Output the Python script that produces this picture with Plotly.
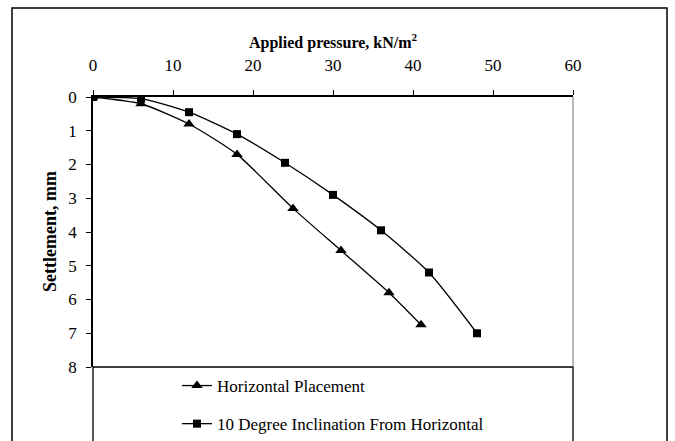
import plotly.graph_objects as go

pressure_h = [0, 6, 12, 18, 25, 31, 37, 41]
settle_h = [0, 0.2, 0.8, 1.7, 3.3, 4.55, 5.8, 6.75]
pressure_i = [0, 6, 12, 18, 24, 30, 36, 42, 48]
settle_i = [0, 0.05, 0.45, 1.1, 1.95, 2.9, 3.95, 5.2, 7.0]
names = ["Horizontal Placement", "10 Degree Inclination From Horizontal"]

W, H = 675, 441
L, R, T, B = 93, 573, 97, 367
font = "Liberation Serif, Times New Roman, serif"

fig = go.Figure()
fig.add_trace(go.Scatter(x=pressure_h, y=settle_h, name=names[0], mode="lines+markers",
                         legendgroup="a",
                         line=dict(color="black", width=1.3, shape="spline", smoothing=0.6),
                         marker=dict(symbol="triangle-up", size=10, color="black")))
fig.add_trace(go.Scatter(x=pressure_i, y=settle_i, name=names[1], mode="lines+markers",
                         legendgroup="b",
                         line=dict(color="black", width=1.3, shape="spline", smoothing=0.6),
                         marker=dict(symbol="square", size=8, color="black")))

fig.update_layout(
    width=W, height=H,
    margin=dict(l=L, r=W - R, t=T, b=H - B, autoexpand=False),
    paper_bgcolor="white", plot_bgcolor="white",
    font=dict(family=font, size=16, color="black"),
    showlegend=True,
    legend=dict(x=(177 - L) / (R - L), y=-(368 - B) / (B - T), xanchor="left", yanchor="top",
                bgcolor="rgba(0,0,0,0)", font=dict(size=17, family=font),
                tracegroupgap=13, traceorder="grouped", itemwidth=30),
    xaxis=dict(side="top", range=[0, 60], dtick=10, tick0=0, ticks="outside", ticklen=5,
               tickcolor="black", showline=True, linecolor="black", linewidth=1.5,
               showgrid=False, zeroline=False, tickfont=dict(size=17, family=font),
               ticklabelstandoff=12),
    yaxis=dict(range=[8, 0], dtick=1, tick0=0, ticks="outside", ticklen=5,
               tickcolor="black", showline=True, linecolor="black", linewidth=1.5,
               showgrid=False, zeroline=False, tickfont=dict(size=17, family=font),
               ticklabelstandoff=6),
    annotations=[
        dict(text="<b>Applied pressure, kN/m<sup>2</sup></b>", xref="paper", yref="paper",
             x=0.5, y=(B - 42) / (B - T), xanchor="center", yanchor="middle",
             showarrow=False, font=dict(size=16, family=font)),
        dict(text="<b>Settlement, mm</b>", xref="paper", yref="paper",
             x=-(L - 50) / (R - L), y=0.5, xanchor="center", yanchor="middle",
             textangle=-90, showarrow=False, font=dict(size=18, family=font)),
    ],
    shapes=[
        # outer frame
        dict(type="rect", xref="paper", yref="paper",
             x0=-(L - 12) / (R - L), x1=(667 - L) / (R - L),
             y0=-(460 - B) / (B - T), y1=(B - 8) / (B - T),
             line=dict(color="black", width=1.5), layer="below"),
        # right plot border (gray)
        dict(type="line", xref="paper", yref="paper", x0=1, x1=1, y0=0, y1=1,
             line=dict(color="#888888", width=1.2)),
        # legend box
        dict(type="rect", xref="paper", yref="paper", x0=0, x1=1,
             y0=-(460 - B) / (B - T), y1=0,
             line=dict(color="black", width=1.3), layer="below"),
    ],
)

fig.write_html("out.html")
